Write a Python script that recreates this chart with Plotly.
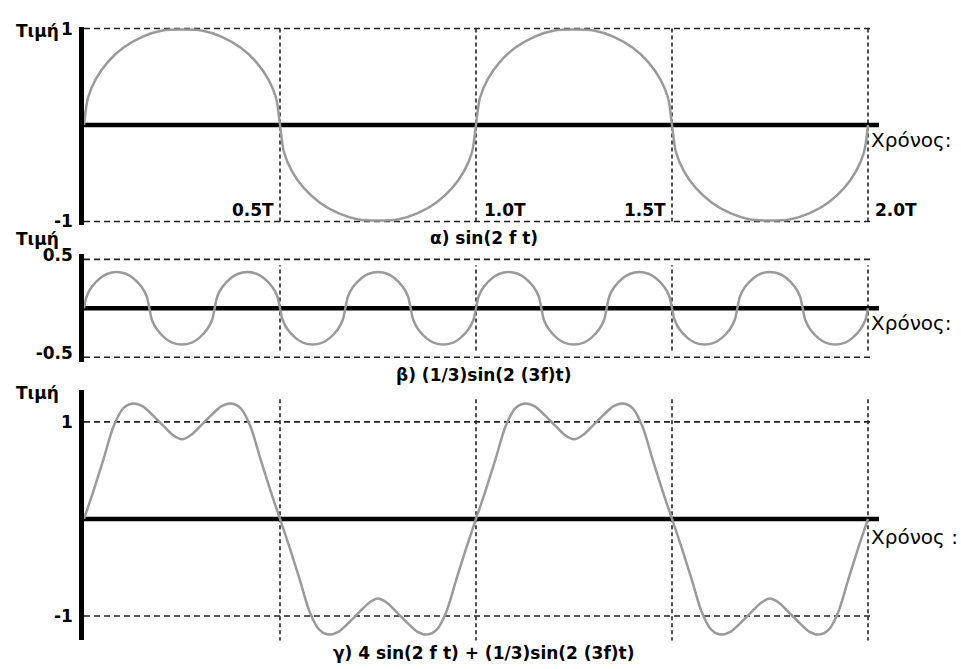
import plotly.graph_objects as go

W, H = 961, 669

# ---------------- data ----------------
# panel α : sin(2 f t)   (time in units of T)
t_a = [0, .01, .03, .06, .10, .15, .20, .25, .30, .35, .40, .44, .47, .49,
       .50, .51, .53, .56, .60, .65, .70, .75, .80, .85, .90, .94, .97, .99,
       1.00, 1.01, 1.03, 1.06, 1.10, 1.15, 1.20, 1.25, 1.30, 1.35, 1.40, 1.44, 1.47, 1.49,
       1.50, 1.51, 1.53, 1.56, 1.60, 1.65, 1.70, 1.75, 1.80, 1.85, 1.90, 1.94, 1.97, 1.99,
       2.00]
v_a = [0, .28, .475, .65, .80, .917, .98, .99, .98, .917, .80, .65, .475, .28,
       0, -.28, -.475, -.65, -.80, -.917, -.98, -.99, -.98, -.917, -.80, -.65, -.475, -.28,
       0, .28, .475, .65, .80, .917, .98, .99, .98, .917, .80, .65, .475, .28,
       0, -.28, -.475, -.65, -.80, -.917, -.98, -.99, -.98, -.917, -.80, -.65, -.475, -.28,
       0]

# panel β : (1/3)sin(2 (3f)t)
t_b = [0, .0067, .02, .0417, .0583, .0833, .1083, .125, .1467, .16,
       .1667, .1733, .1867, .2083, .225, .25, .275, .2917, .3133, .3267,
       .3333, .34, .3533, .375, .3917, .4167, .4417, .4583, .48, .4933,
       .5, .5067, .52, .5417, .5583, .5833, .6083, .625, .6467, .66,
       .6667, .6733, .6867, .7083, .725, .75, .775, .7917, .8133, .8267,
       .8333, .84, .8533, .875, .8917, .9167, .9417, .9583, .98, .9933,
       1.0, 1.0067, 1.02, 1.0417, 1.0583, 1.0833, 1.1083, 1.125, 1.1467, 1.16,
       1.1667, 1.1733, 1.1867, 1.2083, 1.225, 1.25, 1.275, 1.2917, 1.3133, 1.3267,
       1.3333, 1.34, 1.3533, 1.375, 1.3917, 1.4167, 1.4417, 1.4583, 1.48, 1.4933,
       1.5, 1.5067, 1.52, 1.5417, 1.5583, 1.5833, 1.6083, 1.625, 1.6467, 1.66,
       1.6667, 1.6733, 1.6867, 1.7083, 1.725, 1.75, 1.775, 1.7917, 1.8133, 1.8267,
       1.8333, 1.84, 1.8533, 1.875, 1.8917, 1.9167, 1.9417, 1.9583, 1.98, 1.9933,
       2.0]
v_b = [0, .12, .22, .31, .35, .37, .35, .31, .22, .12,
       0, -.12, -.22, -.31, -.35, -.37, -.35, -.31, -.22, -.12,
       0, .12, .22, .31, .35, .37, .35, .31, .22, .12,
       0, -.12, -.22, -.31, -.35, -.37, -.35, -.31, -.22, -.12,
       0, .12, .22, .31, .35, .37, .35, .31, .22, .12,
       0, -.12, -.22, -.31, -.35, -.37, -.35, -.31, -.22, -.12,
       0, .12, .22, .31, .35, .37, .35, .31, .22, .12,
       0, -.12, -.22, -.31, -.35, -.37, -.35, -.31, -.22, -.12,
       0, .12, .22, .31, .35, .37, .35, .31, .22, .12,
       0, -.12, -.22, -.31, -.35, -.37, -.35, -.31, -.22, -.12,
       0, .12, .22, .31, .35, .37, .35, .31, .22, .12,
       0, -.12, -.22, -.31, -.35, -.37, -.35, -.31, -.22, -.12,
       0]

# panel γ : sum, sampled every 0.025 T from t = 0
t_c_start, t_c_step = 0.0, 0.025
v_c = [0, .30, .62, .95, 1.14, 1.19, 1.16, 1.07, .97, .87, .82, .87, .97, 1.07, 1.16, 1.19, 1.14, .95, .62, .30,
       0, -.30, -.62, -.95, -1.14, -1.19, -1.16, -1.07, -.97, -.87, -.82, -.87, -.97, -1.07, -1.16, -1.19, -1.14, -.95, -.62, -.30,
       0, .30, .62, .95, 1.14, 1.19, 1.16, 1.07, .97, .87, .82, .87, .97, 1.07, 1.16, 1.19, 1.14, .95, .62, .30,
       0, -.30, -.62, -.95, -1.14, -1.19, -1.16, -1.07, -.97, -.87, -.82, -.87, -.97, -1.07, -1.16, -1.19, -1.14, -.95, -.62, -.30,
       0]

grid_t = [0.5, 1.0, 1.5, 2.0]
time_labels = ["0.5T", "1.0T", "1.5T", "2.0T"]
ticks_a = [1, -1]
ticks_b = [0.5, -0.5]
ticks_c = [1, -1]
titles = ["α) sin(2 f t)", "β) (1/3)sin(2 (3f)t)", "γ) 4 sin(2 f t) + (1/3)sin(2 (3f)t)"]
ylab = "Τιμή"
xlabs = ["Χρόνος:", "Χρόνος:", "Χρόνος :"]

# ---------------- layout helpers ----------------
def fx(p):
    return p / W

def fy(p):
    return 1 - p / H

CURVE = dict(color="#9a9a9a", width=2.5, shape="spline", smoothing=0.8)
BOLD = dict(family="DejaVu Sans", size=17, color="black", weight="bold")

fig = go.Figure()
fig.add_trace(go.Scatter(x=t_a, y=v_a, mode="lines", line=CURVE, xaxis="x", yaxis="y",
                         cliponaxis=False, hoverinfo="skip", showlegend=False))
fig.add_trace(go.Scatter(x=t_b, y=v_b, mode="lines", line=CURVE, xaxis="x2", yaxis="y2",
                         cliponaxis=False, hoverinfo="skip", showlegend=False))
fig.add_trace(go.Scatter(x0=t_c_start, dx=t_c_step, y=v_c, mode="lines", line=CURVE, xaxis="x3", yaxis="y3",
                         cliponaxis=False, hoverinfo="skip", showlegend=False))

x_px_per_T = 392.0
x_common = dict(domain=[fx(84), 1], range=[0, (W - 84) / x_px_per_T], visible=False, fixedrange=True)

def yax(dom_px, rng, ticks, shift=0):
    return dict(domain=[fy(dom_px[1]), fy(dom_px[0])], range=rng, showline=True, linecolor="black",
                linewidth=4.5, showgrid=False, zeroline=False, ticks="", tickvals=ticks,
                ticktext=[("%g" % v) for v in ticks], tickfont=BOLD, ticklabelstandoff=3,
                ticklabelshift=shift, fixedrange=True)

fig.update_layout(
    width=W, height=H, margin=dict(l=0, r=0, t=0, b=0),
    paper_bgcolor="white", plot_bgcolor="rgba(0,0,0,0)",
    xaxis=dict(x_common, anchor="y"),
    xaxis2=dict(x_common, anchor="y2"),
    xaxis3=dict(x_common, anchor="y3"),
    yaxis=yax((19, 222), [-1.0406, 1.0203], ticks_a),
    yaxis2=yax((251, 362), [-0.553, 0.557], ticks_b, shift=-4),
    yaxis3=yax((390, 646), [-1.252, 1.330], ticks_c),
    showlegend=False,
)

shapes = []
panels = [("x", "y", ticks_a, (-1, 1)), ("x2", "y2", ticks_b, (-0.43, 0.44)), ("x3", "y3", ticks_c, (-1.26, 1.25))]
for xr, yr, lv, (vlo, vhi) in panels:
    for v in lv:
        shapes.append(dict(type="line", xref=xr, yref=yr, x0=0, x1=2.008, y0=v, y1=v, layer="below",
                           line=dict(color="#222", width=1.6, dash="6px,4px")))
    for t in grid_t:
        shapes.append(dict(type="line", xref=xr, yref=yr, x0=t, x1=t, y0=vlo, y1=vhi, layer="below",
                           line=dict(color="#222", width=1.6, dash="4px,3px")))
    shapes.append(dict(type="line", xref=xr, yref=yr, x0=0, x1=2.028, y0=0, y1=0, layer="below",
                       line=dict(color="black", width=4.5)))
fig.update_layout(shapes=shapes)

ann = []
def text(s, xp, yp, xa="left", font=BOLD):
    ann.append(dict(text=s, x=fx(xp), y=fy(yp), xref="paper", yref="paper", xanchor=xa, yanchor="middle",
                    showarrow=False, font=font))

REG = dict(family="DejaVu Sans", size=20, color="black")
for yp in (24, 236, 393):
    text(ylab, 14, yp)
for s, yp in zip(xlabs, (135, 322, 540)):
    text(s, 869, yp, font=REG)
for s, yp in zip(titles, (235, 375, 659)):
    text(s, 484, yp, xa="center")
anchors = ["right", "left", "right", "left"]
offs = [-4, 6, -4, 5]
for s, t, a, o in zip(time_labels, grid_t, anchors, offs):
    text(s, 84 + t * x_px_per_T + o, 206, xa=a)
fig.update_layout(annotations=ann)

fig.write_html("out.html", config={"displayModeBar": False},
               post_script="document.body.style.margin='0';document.body.style.overflow='hidden';")
